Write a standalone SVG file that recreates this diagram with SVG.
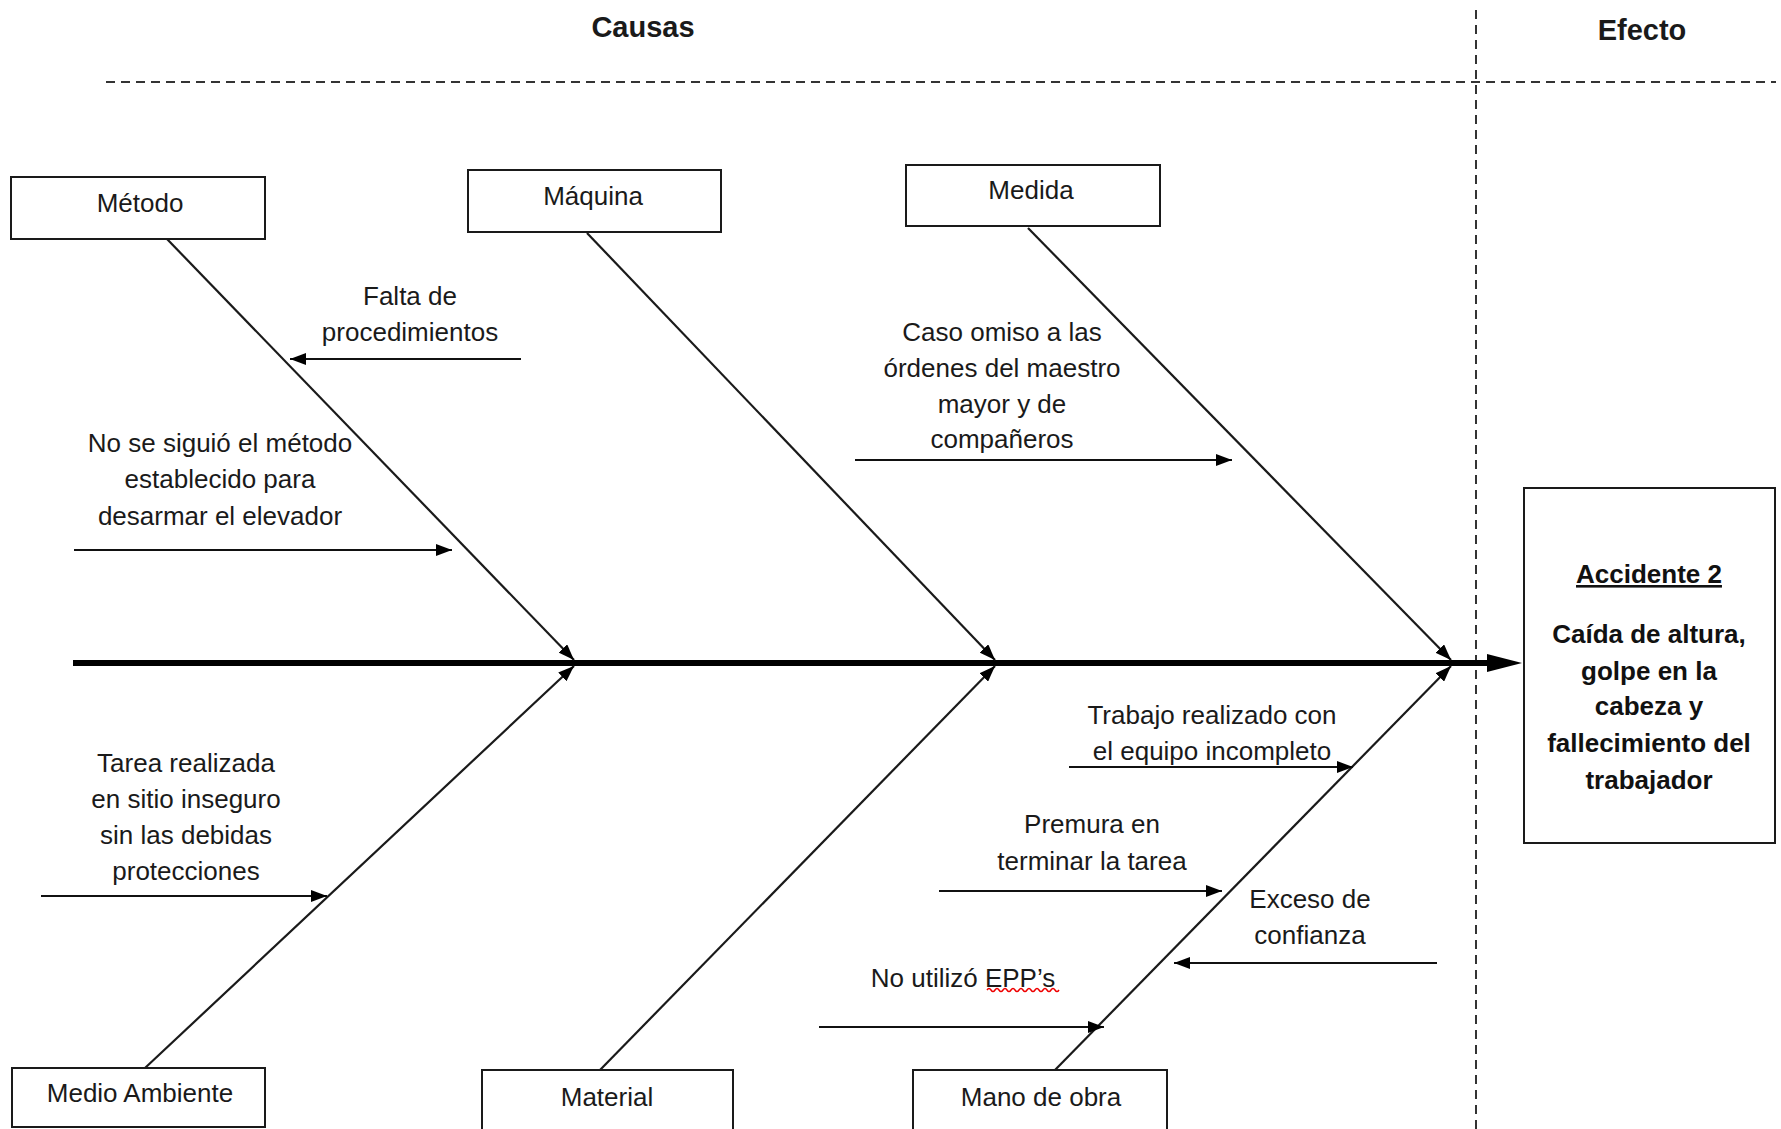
<svg xmlns="http://www.w3.org/2000/svg" width="1781" height="1129" viewBox="0 0 1781 1129">
<style>
  .box { fill: #fff; stroke: #1a1a1a; stroke-width: 2; }
  .t { font-family: "Liberation Sans", Arial, sans-serif; font-size: 26px; fill: #1a1a1a; text-anchor: middle; }
  .h { font-family: "Liberation Sans", Arial, sans-serif; font-size: 29px; font-weight: bold; fill: #1a1a1a; text-anchor: middle; }
  .b { font-family: "Liberation Sans", Arial, sans-serif; font-size: 26px; font-weight: bold; fill: #111; text-anchor: middle; }
  .dash { stroke: #333; stroke-width: 2; stroke-dasharray: 9 6; fill: none; }
  .bone { stroke: #1a1a1a; stroke-width: 2.2; fill: none; marker-end: url(#ah); }
  .cause { stroke: #111; stroke-width: 2; fill: none; marker-end: url(#ah); }
</style>
<defs>
  <marker id="ah" viewBox="0 0 16 12" markerWidth="16" markerHeight="12" refX="16" refY="6" orient="auto" markerUnits="userSpaceOnUse">
    <path d="M0,0 L16,6 L0,12 z" fill="#000"/>
  </marker>
</defs>
<rect width="1781" height="1129" fill="#fff"/>

<g id="headers">
  <text class="h" x="643" y="37">Causas</text>
  <text class="h" x="1642" y="40">Efecto</text>
  <line class="dash" x1="106" y1="82" x2="1776" y2="82"/>
  <line class="dash" x1="1476" y1="10" x2="1476" y2="1129"/>
</g>

<g id="connectors">
  <line x1="73" y1="663" x2="1490" y2="663" stroke="#000" stroke-width="6"/>
  <polygon points="1487,654 1522,663 1487,672" fill="#000"/>
  <line class="bone" x1="167" y1="239" x2="574" y2="660"/>
  <line class="bone" x1="587" y1="233" x2="995" y2="660"/>
  <line class="bone" x1="1028" y1="228" x2="1451" y2="660"/>
  <line class="bone" x1="145" y1="1068" x2="574" y2="666"/>
  <line class="bone" x1="600" y1="1070" x2="995" y2="666"/>
  <line class="bone" x1="1055" y1="1070" x2="1451" y2="666"/>
  <line class="cause" x1="521" y1="359" x2="290" y2="359"/>
  <line class="cause" x1="74" y1="550" x2="452" y2="550"/>
  <line class="cause" x1="855" y1="460" x2="1232" y2="460"/>
  <line class="cause" x1="41" y1="896" x2="327" y2="896"/>
  <line class="cause" x1="1069" y1="767" x2="1353" y2="767"/>
  <line class="cause" x1="939" y1="891" x2="1222" y2="891"/>
  <line class="cause" x1="1437" y1="963" x2="1174" y2="963"/>
  <line class="cause" x1="819" y1="1027" x2="1104" y2="1027"/>
</g>

<g id="node-metodo">
  <rect class="box" x="11" y="177" width="254" height="62"/>
  <text class="t" x="140" y="212">Método</text>
</g>
<g id="node-maquina">
  <rect class="box" x="468" y="170" width="253" height="62"/>
  <text class="t" x="593" y="205">Máquina</text>
</g>
<g id="node-medida">
  <rect class="box" x="906" y="165" width="254" height="61"/>
  <text class="t" x="1031" y="199">Medida</text>
</g>
<g id="node-medio-ambiente">
  <rect class="box" x="12" y="1068" width="253" height="59"/>
  <text class="t" x="140" y="1102">Medio Ambiente</text>
</g>
<g id="node-material">
  <rect class="box" x="482" y="1070" width="251" height="70"/>
  <text class="t" x="607" y="1106">Material</text>
</g>
<g id="node-mano-de-obra">
  <rect class="box" x="913" y="1070" width="254" height="70"/>
  <text class="t" x="1041" y="1106">Mano de obra</text>
</g>

<g id="node-efecto">
  <rect class="box" x="1524" y="488" width="251" height="355"/>
  <text class="b" x="1649" y="583" text-decoration="underline">Accidente 2</text>
  <text class="b" x="1649" y="643">Caída de altura,</text>
  <text class="b" x="1649" y="680">golpe en la</text>
  <text class="b" x="1649" y="715">cabeza y</text>
  <text class="b" x="1649" y="752">fallecimiento del</text>
  <text class="b" x="1649" y="789">trabajador</text>
</g>

<g id="cause-falta">
  <text class="t" x="410" y="305">Falta de</text>
  <text class="t" x="410" y="341">procedimientos</text>
</g>
<g id="cause-metodo">
  <text class="t" x="220" y="452">No se siguió el método</text>
  <text class="t" x="220" y="488">establecido para</text>
  <text class="t" x="220" y="525">desarmar el elevador</text>
</g>
<g id="cause-caso">
  <text class="t" x="1002" y="341">Caso omiso a las</text>
  <text class="t" x="1002" y="377">órdenes del maestro</text>
  <text class="t" x="1002" y="413">mayor y de</text>
  <text class="t" x="1002" y="448">compañeros</text>
</g>
<g id="cause-tarea">
  <text class="t" x="186" y="772">Tarea realizada</text>
  <text class="t" x="186" y="808">en sitio inseguro</text>
  <text class="t" x="186" y="844">sin las debidas</text>
  <text class="t" x="186" y="880">protecciones</text>
</g>
<g id="cause-trabajo">
  <text class="t" x="1212" y="724">Trabajo realizado con</text>
  <text class="t" x="1212" y="760">el equipo incompleto</text>
</g>
<g id="cause-premura">
  <text class="t" x="1092" y="833">Premura en</text>
  <text class="t" x="1092" y="870">terminar la tarea</text>
</g>
<g id="cause-exceso">
  <text class="t" x="1310" y="908">Exceso de</text>
  <text class="t" x="1310" y="944">confianza</text>
</g>
<g id="cause-epp">
  <text class="t" x="963" y="987">No utilizó EPP’s</text>
  <path d="M987,990 q2,-3 4,0 t4,0 t4,0 t4,0 t4,0 t4,0 t4,0 t4,0 t4,0 t4,0 t4,0 t4,0 t4,0 t4,0 t4,0 t4,0 t4,0 t4,0" fill="none" stroke="#e00" stroke-width="1.5"/>
</g>
</svg>
